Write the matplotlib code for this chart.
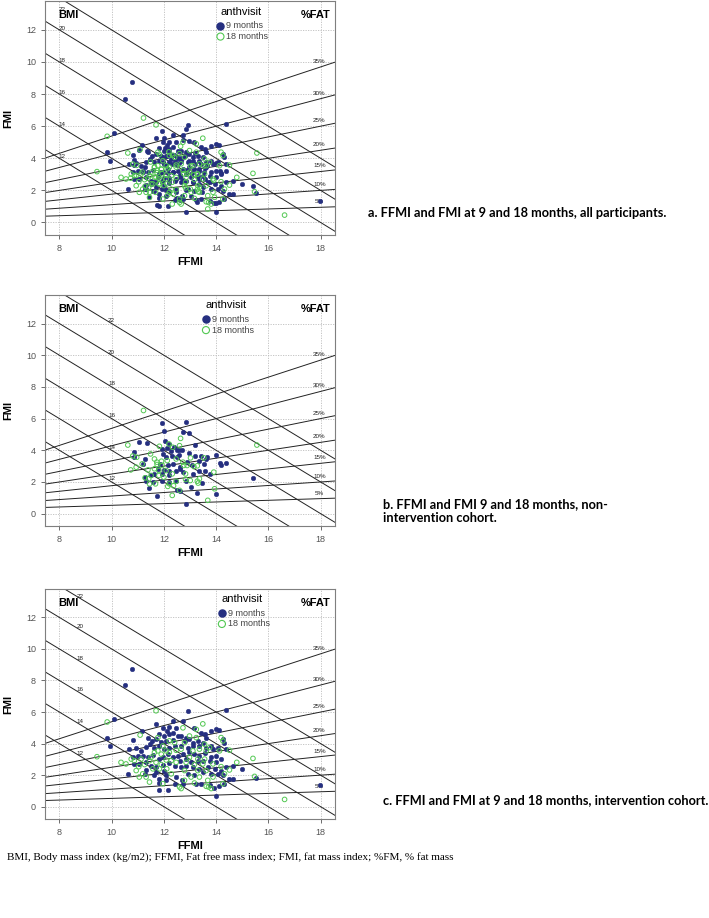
import matplotlib
matplotlib.use("Agg")
import matplotlib.pyplot as plt
import numpy as np

# ---- data ----
# non-intervention cohort (panel b)
NONINT_9M_FFMI = [12.85, 11.91, 12.00, 12.75, 12.98, 11.04, 11.36, 12.04, 12.21, 13.20, 12.13, 12.38,
                  12.50, 10.86, 11.93, 12.28, 12.56, 12.71, 10.87, 11.28, 11.96, 12.09, 12.32, 12.51,
                  12.57, 12.98, 13.21, 13.43, 13.66, 13.98, 11.22, 11.87, 12.14, 12.34, 12.60, 12.88,
                  13.08, 13.36, 13.53, 13.62, 14.13, 14.39, 14.18, 11.28, 11.49, 11.64, 11.93, 12.21,
                  12.45, 12.60, 12.73, 13.10, 13.36, 13.59, 13.75, 15.43, 11.32, 11.60, 11.92, 12.21,
                  12.47, 12.85, 13.45, 11.42, 12.51, 12.60, 13.05, 13.28, 14.00, 11.73, 12.83, 12.21,
                  12.00, 11.77]
NONINT_9M_FMI = [5.80, 5.70, 5.24, 5.17, 5.07, 4.54, 4.46, 4.61, 4.40, 4.35, 4.15, 4.19,
                 4.04, 3.87, 4.08, 3.94, 4.02, 4.04, 3.56, 3.45, 3.77, 3.56, 3.64, 3.60,
                 3.71, 3.81, 3.62, 3.66, 3.56, 3.69, 3.14, 3.14, 3.10, 3.14, 2.97, 3.25,
                 3.06, 3.35, 3.14, 3.43, 3.18, 3.18, 3.06, 2.30, 2.41, 2.51, 2.50, 2.45,
                 2.72, 2.83, 2.62, 2.51, 2.72, 2.68, 2.51, 2.26, 2.09, 1.99, 2.09, 1.99,
                 2.09, 2.05, 1.93, 1.61, 1.51, 1.42, 1.67, 1.30, 1.21, 1.09, 0.63, 2.66,
                 2.76, 2.83]
NONINT_18M_FFMI = [11.22, 12.64, 10.62, 11.83, 12.19, 12.34, 12.60, 15.56, 10.81, 10.96, 11.49, 11.64,
                   11.73, 11.91, 12.13, 12.47, 12.73, 13.02, 13.53, 11.17, 11.74, 11.93, 12.76, 12.89,
                   13.15, 13.28, 10.94, 10.73, 11.39, 11.64, 11.81, 12.09, 12.32, 12.83, 13.91, 11.28,
                   11.42, 11.81, 12.00, 12.47, 12.83, 13.01, 13.28, 13.36, 11.45, 11.68, 12.15, 12.37,
                   13.31, 13.94, 12.32, 13.68, 12.60, 12.21, 11.51]
NONINT_18M_FMI = [6.51, 4.75, 4.33, 4.25, 4.40, 4.19, 4.29, 4.33, 3.64, 3.56, 3.77, 3.45,
                  3.25, 3.31, 3.35, 3.45, 3.25, 3.52, 3.52, 3.14, 3.10, 3.04, 3.04, 3.04,
                  2.97, 3.02, 2.93, 2.76, 2.76, 2.83, 2.72, 2.72, 2.51, 2.51, 2.62, 2.26,
                  2.20, 2.41, 2.30, 2.05, 2.16, 2.09, 2.05, 2.20, 1.88, 1.88, 1.72, 1.76,
                  1.93, 1.57, 1.15, 0.84, 1.47, 1.88, 2.41]

# intervention cohort (panel c)
INT_9M_FFMI = [10.77, 10.50, 10.11, 9.81, 9.95, 14.39, 17.96, 15.54, 14.98, 14.00, 12.94, 10.62,
               11.80, 12.15, 11.70, 12.34, 11.15, 10.81, 11.96, 12.11, 12.21, 12.47, 11.83, 12.02,
               12.19, 12.34, 12.53, 11.38, 11.55, 11.70, 11.90, 12.09, 12.34, 10.68, 10.94, 11.13,
               11.32, 11.45, 11.64, 11.83, 12.02, 12.21, 12.41, 10.81, 11.00, 11.19, 11.38, 11.60,
               11.81, 11.96, 12.15, 12.34, 12.53, 10.87, 11.06, 11.32, 11.51, 11.70, 11.96, 12.21,
               12.41, 11.26, 11.64, 11.83, 12.09, 12.47, 11.83, 12.09, 12.41, 11.32, 11.70, 12.02,
               12.73, 13.17, 13.81, 14.00, 14.10, 13.43, 13.56, 13.62, 12.66, 12.85, 12.79, 12.98,
               13.11, 13.30, 13.49, 14.26, 14.32, 12.66, 12.92, 13.11, 13.36, 13.62, 13.81, 13.88,
               14.07, 14.39, 12.73, 12.98, 13.17, 13.36, 13.56, 13.81, 14.00, 14.19, 12.60, 12.85,
               13.04, 13.30, 13.49, 13.75, 14.00, 12.66, 12.85, 13.11, 13.36, 13.68, 13.94, 14.19,
               14.39, 14.64, 12.92, 13.17, 13.49, 13.81, 14.07, 14.26, 14.51, 12.73, 13.24, 13.43,
               13.75, 14.10, 14.32, 13.91, 12.70, 14.64]
INT_9M_FMI = [8.75, 7.69, 5.58, 4.37, 3.85, 6.15, 1.35, 1.81, 2.40, 0.67, 6.06, 2.08,
              1.04, 1.04, 5.25, 5.46, 4.83, 4.21, 5.00, 4.83, 5.04, 5.00, 4.63, 4.48,
              4.58, 4.69, 4.48, 4.38, 4.17, 4.27, 4.13, 4.17, 4.21, 3.65, 3.71, 3.54,
              3.79, 3.96, 3.75, 3.85, 3.65, 3.75, 3.85, 3.13, 3.23, 3.23, 3.13, 3.29,
              3.02, 3.17, 3.33, 3.13, 3.23, 2.71, 2.71, 2.81, 2.60, 2.50, 2.67, 2.75,
              2.60, 2.08, 1.98, 1.77, 2.04, 1.88, 1.50, 1.67, 1.42, 2.33, 2.19, 2.29,
              5.42, 5.00, 4.79, 4.90, 4.85, 4.69, 4.58, 4.38, 4.48, 4.38, 4.17, 4.27,
              4.06, 4.17, 4.06, 4.27, 4.06, 3.85, 3.75, 3.85, 3.85, 3.75, 3.85, 3.65,
              3.75, 3.65, 3.33, 3.44, 3.33, 3.23, 3.38, 3.13, 3.23, 3.02, 2.92, 3.02,
              2.81, 2.92, 2.92, 2.92, 2.81, 2.50, 2.60, 2.50, 2.40, 2.50, 2.40, 2.29,
              2.50, 2.60, 2.08, 1.98, 2.19, 2.08, 2.08, 1.98, 1.77, 1.46, 1.42, 1.46,
              1.35, 1.29, 1.46, 1.21, 1.67, 1.77]
INT_18M_FFMI = [9.83, 9.44, 16.62, 15.41, 15.47, 14.79, 11.70, 13.49, 14.51, 13.71, 12.66, 10.36,
                11.09, 10.55, 10.87, 11.04, 11.19, 11.45, 11.64, 11.77, 11.90, 12.09, 12.21, 12.47,
                11.51, 11.70, 11.90, 12.09, 12.28, 12.47, 10.94, 11.32, 11.45, 11.96, 11.06, 10.75,
                12.11, 12.28, 11.83, 11.58, 11.26, 11.13, 11.96, 12.41, 12.21, 11.77, 12.73, 13.24,
                12.98, 13.24, 14.19, 14.26, 12.79, 13.56, 13.75, 13.36, 12.66, 13.11, 13.62, 14.13,
                12.98, 13.30, 12.85, 13.56, 13.17, 14.19, 13.49, 13.88, 14.51, 12.79, 13.30, 13.62,
                13.04, 13.36, 13.68, 13.88, 14.32, 12.60, 13.62, 13.81, 14.26, 12.79, 13.17]
INT_18M_FMI = [5.37, 3.17, 0.46, 3.06, 1.92, 2.81, 6.08, 5.25, 3.58, 1.25, 1.15, 2.81,
               4.54, 2.71, 2.92, 2.54, 2.08, 2.92, 3.44, 3.54, 3.33, 3.54, 3.44, 3.58,
               3.13, 2.81, 2.67, 2.96, 2.92, 2.81, 2.29, 1.88, 1.56, 1.46, 1.88, 3.02,
               2.40, 2.08, 2.40, 2.40, 2.67, 3.02, 3.85, 4.06, 4.17, 4.38, 5.00, 4.90,
               4.48, 4.38, 4.38, 4.17, 4.06, 3.96, 3.75, 3.65, 3.65, 3.54, 3.54, 3.54,
               3.13, 3.02, 2.81, 3.02, 2.67, 2.54, 2.71, 2.71, 2.33, 2.29, 2.29, 2.29,
               1.88, 1.88, 1.67, 1.88, 2.08, 1.25, 1.29, 1.15, 1.46, 1.67, 1.50]

BMI_LEVELS = [12, 14, 16, 18, 20, 22]
FAT_LEVELS = [5, 10, 15, 20, 25, 30, 35]
XTICKS = [8, 10, 12, 14, 16, 18]
YTICKS = [0, 2, 4, 6, 8, 10, 12]

CAPTIONS = ["a. FFMI and FMI at 9 and 18 months, all participants.",
            "b. FFMI and FMI 9 and 18 months, non-\nintervention cohort.",
            "c. FFMI and FMI at 9 and 18 months, intervention cohort."]
FOOTNOTE = "BMI, Body mass index (kg/m2); FFMI, Fat free mass index; FMI, fat mass index; %FM, % fat mass"

NAVY = "#252f80"
GREEN = "#52c852"
GRID = "#bdbdbd"
TICK = "#555555"

W, H = 709, 918
XLIM = (7.45, 18.55)
YLIM = (-0.78, 13.8)

# (point sets, axes box px [left, top, right, bottom], bmi label x, legend x frac, caption px)
panels = [
    (dict(b9=(NONINT_9M_FFMI + INT_9M_FFMI, NONINT_9M_FMI + INT_9M_FMI),
          g18=(NONINT_18M_FFMI + INT_18M_FFMI, NONINT_18M_FMI + INT_18M_FMI)),
     (45, 1, 335, 235), 8.1, 0.605, (368, 213)),
    (dict(b9=(NONINT_9M_FFMI, NONINT_9M_FMI), g18=(NONINT_18M_FFMI, NONINT_18M_FMI)),
     (45, 295, 335, 526), 10.0, 0.555, (383, 511)),
    (dict(b9=(INT_9M_FFMI, INT_9M_FMI), g18=(INT_18M_FFMI, INT_18M_FMI)),
     (45, 589, 335, 819), 8.8, 0.61, (383, 800)),
]

plt.rcParams["font.family"] = ["Liberation Sans", "DejaVu Sans"]
fig = plt.figure(figsize=(W / 100, H / 100), dpi=100)

for (data, (l, t, r, b), bmi_x, leg_x, (cx, cy)), cap in zip(panels, CAPTIONS):
    ax = fig.add_axes([l / W, 1 - b / H, (r - l) / W, (b - t) / H])
    ax.set_xlim(*XLIM)
    ax.set_ylim(*YLIM)
    for s in ax.spines.values():
        s.set_color("#7f7f7f")
        s.set_linewidth(0.8)
    for x in XTICKS:
        ax.axvline(x, color=GRID, ls=(0, (1.5, 1.5)), lw=0.6, zorder=0)
    for y in YTICKS:
        ax.axhline(y, color=GRID, ls=(0, (1.5, 1.5)), lw=0.6, zorder=0)

    # BMI isolines (FMI = BMI - FFMI) and %fat rays (FMI = p/(1-p) * FFMI)
    xs = np.array(XLIM)
    for bmi in BMI_LEVELS:
        ax.plot(xs, bmi - xs, color="#222222", lw=0.7, zorder=1)
        ly = min(bmi - bmi_x + 0.2, 13.3)
        ax.text(bmi_x, ly, str(bmi), fontsize=4.5, color="#222222", ha="center", va="center")
    for pct in FAT_LEVELS:
        k = pct / (100 - pct)
        ax.plot(xs, k * xs, color="#222222", lw=0.7, zorder=1)
        ax.text(17.95, k * 18 + 0.35, f"{pct}%", fontsize=4.5, color="#222222",
                ha="center", va="center")

    ax.scatter(*data["b9"], s=11, color=NAVY, edgecolors=NAVY, linewidths=0.3, zorder=3)
    ax.scatter(*data["g18"], s=11, facecolors="none", edgecolors=GREEN, linewidths=0.7, zorder=4)

    ax.set_xticks(XTICKS)
    ax.set_yticks(YTICKS)
    ax.tick_params(labelsize=6.5, colors=TICK, length=3, width=0.6)
    ax.set_xlabel("FFMI", fontsize=8, fontweight="bold", labelpad=3)
    ax.set_ylabel("FMI", fontsize=8, fontweight="bold", labelpad=9)

    ax.text(0.045, 0.94, "BMI", transform=ax.transAxes, fontsize=8, fontweight="bold",
            ha="left", va="center")
    ax.text(0.985, 0.94, "%FAT", transform=ax.transAxes, fontsize=8, fontweight="bold",
            ha="right", va="center")
    ax.text(leg_x + 0.07, 0.955, "anthvisit", transform=ax.transAxes, fontsize=8,
            ha="center", va="center")
    ax.scatter([leg_x], [0.895], s=26, color=NAVY, transform=ax.transAxes, zorder=5)
    ax.scatter([leg_x], [0.848], s=26, facecolors="none", edgecolors=GREEN, linewidths=0.8,
               transform=ax.transAxes, zorder=5)
    ax.text(leg_x + 0.02, 0.895, "9 months", transform=ax.transAxes, fontsize=6.5,
            color="#444444", ha="left", va="center")
    ax.text(leg_x + 0.02, 0.848, "18 months", transform=ax.transAxes, fontsize=6.5,
            color="#444444", ha="left", va="center")

    fig.text(cx / W, 1 - cy / H, cap, fontsize=9.2, fontweight="bold", family="Lato",
             ha="left", va="center", linespacing=1.2)

fig.text(7 / W, 1 - 857 / H, FOOTNOTE, fontsize=8, family="Liberation Serif",
         ha="left", va="center")

fig.savefig("out.png", dpi=100)
